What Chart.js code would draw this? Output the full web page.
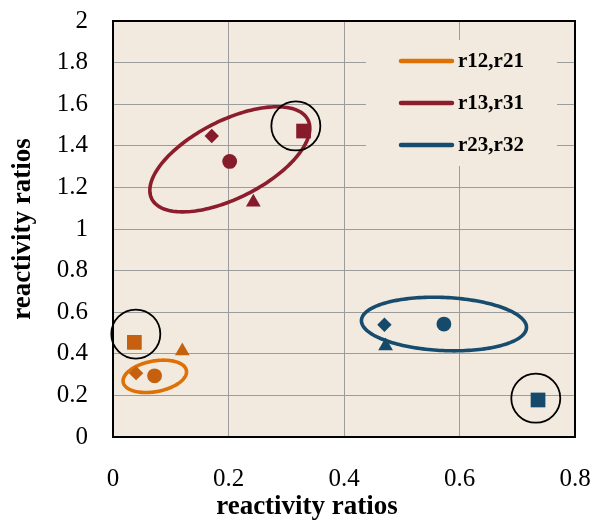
<!DOCTYPE html>
<html>
<head>
<meta charset="utf-8">
<script src="https://cdn.jsdelivr.net/npm/chart.js@4/dist/chart.umd.min.js"></script>
<style>
  html, body { margin: 0; padding: 0; background: #ffffff; }
  #c { display: block; }
</style>
</head>
<body>
<canvas id="c" width="593" height="520"></canvas>
<script>
// Reactivity ratio pairs (x = r_ij, y = r_ji), four estimation methods per pair
const seriesNames = ['r12,r21', 'r13,r31', 'r23,r32'];
const methodStyles = ['rect', 'triangle', 'rectRot', 'circle'];

const r12x = [0.037, 0.120, 0.040, 0.072];
const r12y = [0.455, 0.413, 0.307, 0.294];
const r13x = [0.330, 0.243, 0.171, 0.202];
const r13y = [1.471, 1.129, 1.447, 1.325];
const r23x = [0.736, 0.472, 0.470, 0.573];
const r23y = [0.178, 0.438, 0.540, 0.543];

// Joint confidence ellipses: centre and the two half-axis vectors, in data units
const ellCx = [0.0724, 0.2023, 0.5731];
const ellCy = [0.2916, 1.3350, 0.5431];
const ellAx = [0.0547, 0.1352, 0.1429];
const ellAy = [0.0282, 0.1900, -0.0178];
const ellBx = [0.00483, 0.0302, -0.00204];
const ellBy = [-0.0725, -0.1666, -0.1276];

// Outlying estimates marked with a ring
const ringX = [0.0395, 0.3166, 0.7321];
const ringY = [0.495, 1.4954, 0.1865];

const xTickLabels = ['0', '0.2', '0.4', '0.6', '0.8'];
const yTickLabels = ['0', '0.2', '0.4', '0.6', '0.8', '1', '1.2', '1.4', '1.6', '1.8', '2'];
const axisTitle = 'reactivity ratios';

const lineColors = ['#de7105', '#8c1d2d', '#174c6e'];
const markColors = ['#c5600e', '#851b2b', '#154a6b'];
const plotBg = '#f2eadf';
const serif = "'Liberation Serif', 'Times New Roman', serif";

const seriesX = [r12x, r13x, r23x];
const seriesY = [r12y, r13y, r23y];

const markerSizes = { rect: 10.4, triangle: 8.5, rectRot: 7.2, circle: 7.4 };

const datasets = [{
  label: 'ring',
  data: ringX.map((x, i) => ({ x, y: ringY[i] })),
  pointStyle: 'circle',
  pointRadius: 24.5,
  backgroundColor: 'rgba(0,0,0,0)',
  borderColor: '#000000',
  borderWidth: 1.8,
  showLine: false,
  clip: false
}];
seriesNames.forEach((name, s) => {
  datasets.push({
    label: name,
    data: seriesX[s].map((x, i) => ({ x, y: seriesY[s][i] })),
    pointStyle: methodStyles,
    pointRadius: methodStyles.map(p => markerSizes[p]),
    backgroundColor: markColors[s],
    borderColor: markColors[s],
    borderWidth: 0,
    showLine: false,
    clip: false
  });
});

const plotBackground = {
  id: 'plotBackground',
  beforeDraw(chart) {
    const { ctx, chartArea: a } = chart;
    ctx.save();
    ctx.fillStyle = plotBg;
    ctx.fillRect(a.left, a.top, a.right - a.left, a.bottom - a.top);
    ctx.restore();
  }
};

const confidenceEllipses = {
  id: 'confidenceEllipses',
  beforeDatasetsDraw(chart) {
    const { ctx, scales: { x, y } } = chart;
    ctx.save();
    // key panel sits over the grid
    ctx.fillStyle = plotBg;
    ctx.fillRect(366, 40, 191, 126);
    ctx.lineCap = 'round';
    ctx.lineWidth = 4.5;
    ctx.font = 'bold 21px ' + serif;
    ctx.textBaseline = 'middle';
    ctx.fillStyle = '#000';
    seriesNames.forEach((name, s) => {
      const ly = 61 + s * 42;
      ctx.strokeStyle = lineColors[s];
      ctx.beginPath();
      ctx.moveTo(401, ly);
      ctx.lineTo(452, ly);
      ctx.stroke();
      ctx.fillText(name, 458, ly + 1);
    });
    // ellipses
    ctx.lineWidth = 3.6;
    ellCx.forEach((cx, s) => {
      ctx.strokeStyle = lineColors[s];
      ctx.beginPath();
      const n = 180;
      for (let k = 0; k <= n; k++) {
        const t = (k / n) * Math.PI * 2;
        const dx = cx + ellAx[s] * Math.cos(t) + ellBx[s] * Math.sin(t);
        const dy = ellCy[s] + ellAy[s] * Math.cos(t) + ellBy[s] * Math.sin(t);
        const px = x.getPixelForValue(dx);
        const py = y.getPixelForValue(dy);
        if (k === 0) ctx.moveTo(px, py); else ctx.lineTo(px, py);
      }
      ctx.closePath();
      ctx.stroke();
    });
    ctx.restore();
  },
  afterDraw(chart) {
    const { ctx, chartArea: a } = chart;
    ctx.save();
    ctx.strokeStyle = '#000';
    ctx.lineWidth = 2;
    ctx.strokeRect(a.left, a.top, a.right - a.left, a.bottom - a.top);
    // horizontal axis title
    ctx.fillStyle = '#000';
    ctx.font = 'bold 27px ' + serif;
    ctx.textAlign = 'center';
    ctx.textBaseline = 'middle';
    ctx.fillText(axisTitle, 307, 507);
    ctx.restore();
  }
};

new Chart(document.getElementById('c'), {
  type: 'scatter',
  data: { datasets },
  options: {
    responsive: false,
    devicePixelRatio: 1,
    animation: false,
    events: [],
    layout: { autoPadding: false, padding: { left: 0, top: 21, right: 18, bottom: 0 } },
    plugins: { legend: { display: false }, tooltip: { enabled: false } },
    scales: {
      x: {
        type: 'linear', min: 0, max: 0.8,
        ticks: {
          stepSize: 0.2, color: '#000', padding: 27,
          font: { family: serif, size: 25 },
          callback: (v) => xTickLabels[Math.round(v / 0.2)]
        },
        grid: { color: '#9c9c9c', lineWidth: 1, drawTicks: false },
        border: { display: true, color: '#000', width: 2 },
        title: { display: false },
        afterFit: (s) => { s.height = 83; s.paddingLeft = 0; s.paddingRight = 0; }
      },
      y: {
        type: 'linear', min: 0, max: 2,
        ticks: {
          stepSize: 0.2, color: '#000', padding: 25,
          font: { family: serif, size: 25 },
          callback: (v) => yTickLabels[Math.round(v / 0.2)]
        },
        grid: { color: '#9c9c9c', lineWidth: 1, drawTicks: false },
        border: { display: true, color: '#000', width: 2 },
        title: {
          display: true, text: axisTitle, color: '#000', padding: { top: 10, bottom: 0 },
          font: { family: serif, size: 27, weight: 'bold', lineHeight: 1 }
        },
        afterFit: (s) => { s.width = 113; s.paddingTop = 0; s.paddingBottom = 0; }
      }
    }
  },
  plugins: [plotBackground, confidenceEllipses]
});
</script>
</body>
</html>
